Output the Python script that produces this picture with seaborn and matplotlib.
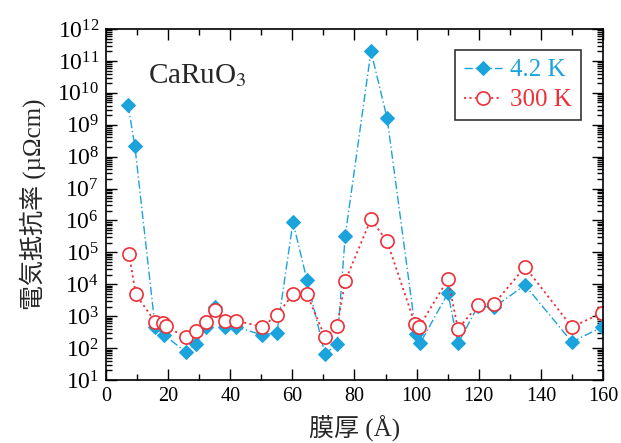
import numpy as np
import pandas as pd
import seaborn as sns
import matplotlib
matplotlib.use("Agg")
import matplotlib.pyplot as plt
from matplotlib.ticker import LogLocator, LogFormatterMathtext, MultipleLocator, NullFormatter

# data (thickness in Angstrom, resistivity in uOhm cm)
thick_4k = [7.1, 9.3, 15.8, 18.7, 25.7, 29.0, 32.2, 35.1, 38.3, 41.9, 50.2, 55.0, 60.2, 64.7,
            70.5, 74.4, 77.0, 85.3, 90.5, 99.8, 101.1, 110.1, 113.3, 119.8, 124.9, 134.9, 150.0, 159.7]
rho_4k = [4.2e9, 2.1e8, 4.6e2, 2.6e2, 75, 1.35e2, 4.6e2, 2.0e3, 4.6e2, 4.6e2, 2.6e2, 3.0e2, 8.9e5, 1.35e4,
          65, 1.35e2, 3.2e5, 2.0e11, 1.6e9, 2.7e2, 1.4e2, 5.3e3, 1.4e2, 2.1e3, 1.9e3, 9.4e3, 1.55e2, 4.6e2]

thick_300k = [7.4, 9.6, 15.8, 18.5, 19.3, 25.7, 29.0, 32.2, 35.1, 38.3, 41.9, 50.2, 55.0, 60.2, 64.7,
              70.5, 74.4, 77.0, 85.3, 90.5, 99.5, 100.8, 110.1, 113.3, 119.8, 124.9, 134.9, 150.0, 159.7]
rho_300k = [8.9e4, 4.9e3, 6.6e2, 6.0e2, 4.8e2, 2.2e2, 3.4e2, 6.6e2, 1.55e3, 7.0e2, 7.3e2, 4.6e2, 1.07e3, 4.9e3, 4.9e3,
            2.2e2, 4.9e2, 1.26e4, 1.1e6, 2.2e5, 5.6e2, 4.6e2, 1.45e4, 4.0e2, 2.2e3, 2.4e3, 3.5e4, 4.6e2, 1.26e3]

blue = "#1ba3dc"
red = "#ec3038"

sns.set_theme(style="ticks")
plt.rcParams["font.family"] = ["Liberation Serif", "Noto Sans CJK JP"]
plt.rcParams["mathtext.fontset"] = "stix"

fig = plt.figure(figsize=(6.21, 4.43), dpi=100)
ax = fig.add_axes([0.1707, 0.1422, 0.8003, 0.7923])

sns.lineplot(x=thick_4k, y=rho_4k, ax=ax, color=blue, linestyle=(0, (6, 2, 1, 2)), linewidth=1.0,
             marker="D", markersize=7, markeredgecolor=blue, markerfacecolor=blue,
             estimator=None, sort=False, label="4.2 K")
sns.lineplot(x=thick_300k, y=rho_300k, ax=ax, color=red, linestyle=(0, (1.2, 1.8)), linewidth=1.3,
             marker="o", markersize=9.5, markeredgecolor=red, markerfacecolor="white", markeredgewidth=1.2,
             estimator=None, sort=False, label="300 K")

ax.set_yscale("log")
ax.set_xlim(0, 160)
ax.set_ylim(10, 1e12)
ax.xaxis.set_major_locator(MultipleLocator(20))
ax.xaxis.set_minor_locator(MultipleLocator(10))
ax.yaxis.set_major_locator(LogLocator(base=10, numticks=20))
ax.yaxis.set_minor_locator(LogLocator(base=10, subs=np.arange(2, 10), numticks=200))
ax.yaxis.set_major_formatter(LogFormatterMathtext())
ax.yaxis.set_minor_formatter(NullFormatter())
ax.tick_params(which="both", direction="in", top=True, right=True, colors="black", width=1.0)
ax.tick_params(axis="x", labelsize=14.5, pad=5)
ax.tick_params(axis="y", labelsize=17, pad=5)
ax.tick_params(which="major", length=8)
ax.tick_params(which="minor", length=4)
for s in ax.spines.values():
    s.set_color("black")
    s.set_linewidth(1.2)

ax.set_xlabel("膜厚 (Å)", fontsize=18, labelpad=6)
ax.set_ylabel("電気抵抗率 (µΩcm)", fontsize=18, labelpad=8)
ax.text(0.085, 0.846, "CaRuO$_3$", transform=ax.transAxes, fontsize=21, ha="left", va="baseline")

leg = ax.legend(loc="upper right", bbox_to_anchor=(0.956, 0.940), borderaxespad=0, fontsize=18,
                frameon=True, fancybox=False, edgecolor="black", labelcolor="linecolor",
                handlelength=1.5, handletextpad=0.35, borderpad=0.35, labelspacing=0.3)
leg.get_frame().set_linewidth(1.2)

fig.savefig("out.png", dpi=100)
